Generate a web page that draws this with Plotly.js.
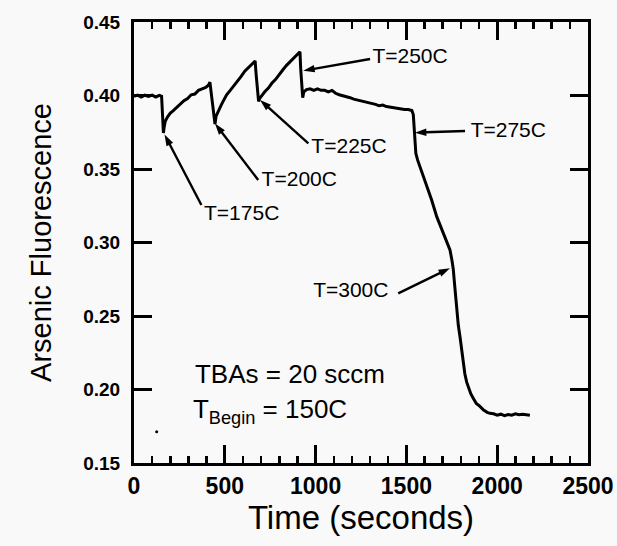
<!DOCTYPE html>
<html>
<head>
<meta charset="utf-8">
<script src="https://cdn.plot.ly/plotly-3.0.1.min.js"></script>
<style>
  html, body { margin: 0; padding: 0; background: #f9f9f9; }
  #chart { width: 617px; height: 546px; }
</style>
</head>
<body>
<div id="chart"></div>
<script>
// Arsenic fluorescence signal recorded while the substrate temperature is stepped up.
const timeSec = [
  0, 20, 40, 60, 80, 100, 120, 140, 152,
  158, 162, 166, 172, 185, 200, 215, 235, 255, 275, 295, 315, 335, 355, 375, 395, 410, 418,
  425, 440, 446,
  452, 465, 480, 495, 510, 530, 550, 570, 590, 610, 630, 650, 660, 667,
  672, 680, 686,
  692, 705, 720, 740, 760, 780, 800, 820, 840, 860, 880, 895, 905, 914,
  918, 925, 929,
  935, 950, 970, 990, 1010, 1030, 1050, 1070, 1090, 1110, 1130, 1150, 1170, 1190, 1210, 1230,
  1250, 1270, 1290, 1310, 1330, 1350, 1370, 1390, 1410, 1430, 1450, 1470, 1490, 1510, 1530,
  1538, 1543, 1547, 1552, 1562, 1575, 1595, 1612, 1639, 1667, 1685, 1703, 1722, 1740,
  1750, 1758, 1765, 1772, 1778, 1786, 1795, 1805, 1813, 1822, 1832, 1841, 1855, 1868,
  1885, 1905, 1925, 1945, 1960, 1980, 2000, 2020, 2040, 2060, 2080, 2100, 2120, 2140, 2160, 2180
];
const fluorescence = [
  0.3995, 0.4003, 0.3990, 0.4002, 0.3994, 0.4003, 0.3990, 0.4001, 0.3995,
  0.3880, 0.3745, 0.3785, 0.3825, 0.3855, 0.3880, 0.3895, 0.3920, 0.3945, 0.3965, 0.3980, 0.4005, 0.4010, 0.4035, 0.4045, 0.4055, 0.4070, 0.4090,
  0.4020, 0.3870, 0.3805,
  0.3860, 0.3900, 0.3935, 0.3970, 0.4005, 0.4035, 0.4065, 0.4095, 0.4130, 0.4165, 0.4190, 0.4210, 0.4225, 0.4235,
  0.4150, 0.4020, 0.3960,
  0.3980, 0.4005, 0.4025, 0.4050, 0.4085, 0.4110, 0.4145, 0.4175, 0.4205, 0.4230, 0.4255, 0.4270, 0.4285, 0.4298,
  0.4180, 0.4050, 0.3985,
  0.4025, 0.4040, 0.4045, 0.4035, 0.4045, 0.4035, 0.4035, 0.4025, 0.4035, 0.4015, 0.4005, 0.4000, 0.3995, 0.3985, 0.3975, 0.3970,
  0.3960, 0.3955, 0.3950, 0.3945, 0.3940, 0.3930, 0.3935, 0.3925, 0.3920, 0.3915, 0.3910, 0.3905, 0.3905, 0.3905, 0.3898,
  0.3870, 0.3780, 0.3700, 0.3607, 0.3560, 0.3516, 0.3445, 0.3380, 0.3289, 0.3176, 0.3120, 0.3063, 0.3005, 0.2949,
  0.2885, 0.2820, 0.2720, 0.2620, 0.2525, 0.2435, 0.2360, 0.2265, 0.2180, 0.2105, 0.2050, 0.2015, 0.1970, 0.1940,
  0.1905, 0.1885, 0.1860, 0.1845, 0.1838, 0.1835, 0.1825, 0.1832, 0.1822, 0.1830, 0.1825, 0.1835, 0.1828, 0.1832, 0.1827, 0.1825
];

// Isolated speck near the lower left corner of the frame.
const speckTime = [125];
const speckValue = [0.1713];

// Temperature step labels.
const stepLabels = ['T=175C', 'T=200C', 'T=225C', 'T=250C', 'T=275C', 'T=300C'];

// Growth conditions.
const conditionLines = ['TBAs = 20 sccm', 'T<sub>Begin</sub> = 150C'];

// Axis tick values.
const xTicks = [0, 500, 1000, 1500, 2000, 2500];
const yTicks = [0.15, 0.20, 0.25, 0.30, 0.35, 0.40, 0.45];

const ink = '#000000';
const sans = '"Liberation Sans", Arial, Helvetica, sans-serif';

// Where each step label sits, and the arrow running from the label to the curve.
const labelPlacement = [
  { at: [593, 0.3187],  tail: [371, 0.3255],  head: [168, 0.3735] },
  { at: [910, 0.3422],  tail: [684, 0.3425],  head: [446, 0.3810] },
  { at: [1184, 0.3646], tail: [960, 0.3675],  head: [694, 0.3970] },
  { at: [1520, 0.4259], tail: [1300, 0.4248], head: [932, 0.4169] },
  { at: [2061, 0.3754], tail: [1823, 0.3759], head: [1547, 0.3747] },
  { at: [1194, 0.2667], tail: [1455, 0.2654], head: [1740, 0.2825] }
];
const conditionPlacement = [[859, 0.2088], [749, 0.1850]];

const traces = [
  {
    x: timeSec, y: fluorescence, type: 'scatter', mode: 'lines',
    line: { color: ink, width: 3 }
  },
  {
    x: speckTime, y: speckValue, type: 'scatter', mode: 'markers',
    marker: { color: ink, size: 3 }
  }
];

// Arrows: a short line whose end carries an arrow-shaped marker pointing along it.
labelPlacement.forEach(p => {
  traces.push({
    x: [p.tail[0], p.head[0]], y: [p.tail[1], p.head[1]],
    type: 'scatter', mode: 'lines+markers', cliponaxis: false,
    line: { color: ink, width: 2.4 },
    marker: { symbol: 'arrow', angleref: 'previous', size: 12, color: ink }
  });
});

// Step labels.
traces.push({
  x: labelPlacement.map(p => p.at[0]), y: labelPlacement.map(p => p.at[1]),
  text: stepLabels, type: 'scatter', mode: 'text', textposition: 'middle center',
  cliponaxis: false, textfont: { family: sans, size: 21, color: ink }
});

// Growth conditions block.
traces.push({
  x: conditionPlacement.map(p => p[0]), y: conditionPlacement.map(p => p[1]),
  text: conditionLines, type: 'scatter', mode: 'text', textposition: 'middle center',
  cliponaxis: false, textfont: { family: sans, size: 26, color: ink }
});

const axisCommon = {
  showline: true, linecolor: ink, linewidth: 3, layer: 'above traces',
  mirror: 'allticks', ticks: 'inside', tickcolor: ink, tickwidth: 3, ticklen: 18,
  showgrid: false, zeroline: false
};

const layout = {
  width: 617, height: 546,
  margin: { l: 134, r: 29, t: 22, b: 83 },
  paper_bgcolor: '#f9f9f9', plot_bgcolor: '#f9f9f9',
  showlegend: false,
  xaxis: Object.assign({}, axisCommon, {
    range: [0, 2500], tickvals: xTicks, ticktext: xTicks.map(String),
    tickfont: { family: sans, size: 23, color: ink, weight: 'bold' },
    minor: { dtick: 100, tick0: 0, ticks: 'inside', ticklen: 7, tickwidth: 2.5, tickcolor: ink, showgrid: false },
    title: { text: 'Time (seconds)', font: { family: sans, size: 33, color: ink }, standoff: 8 }
  }),
  yaxis: Object.assign({}, axisCommon, {
    range: [0.15, 0.45], tickvals: yTicks, ticktext: yTicks.map(v => v.toFixed(2)),
    tickfont: { family: sans, size: 19, color: ink, weight: 'bold' },
    ticklabelstandoff: 7,
    title: { text: 'Arsenic Fluorescence', font: { family: sans, size: 29, color: ink }, standoff: 24 }
  })
};

Plotly.newPlot('chart', traces, layout, { staticPlot: true });
</script>
</body>
</html>
